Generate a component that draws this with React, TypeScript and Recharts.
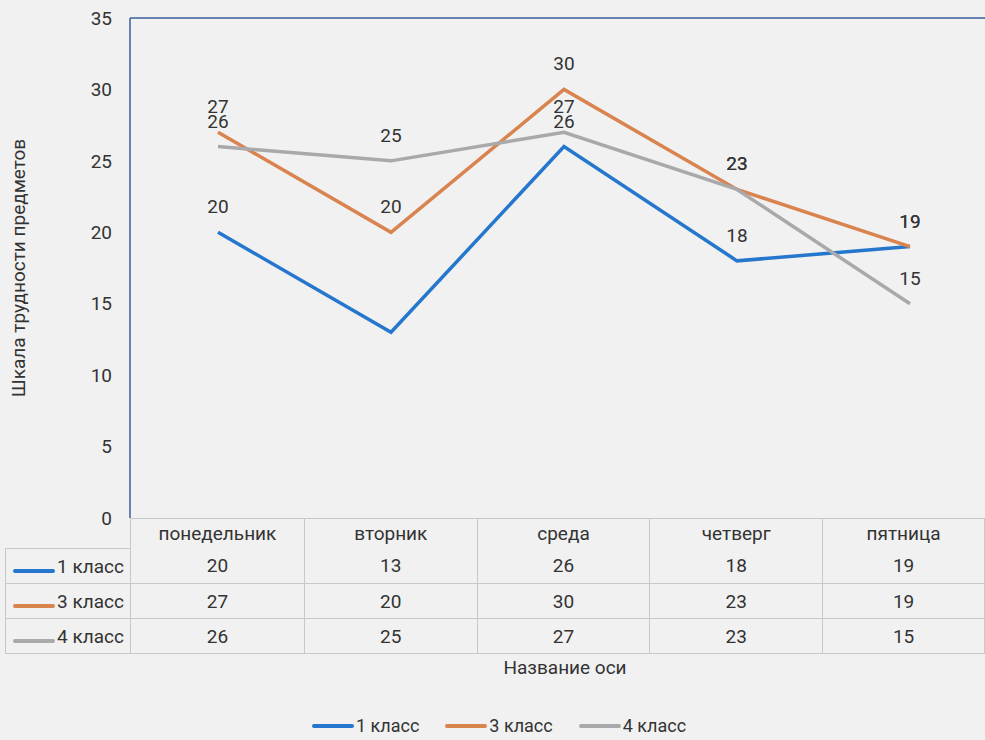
import { LabelList, Line, LineChart, ReferenceLine, XAxis, YAxis } from "recharts";

const DAYS = ["понедельник", "вторник", "среда", "четверг", "пятница"];
const CLASS_1 = [20, 13, 26, 18, 19];
const CLASS_3 = [27, 20, 30, 23, 19];
const CLASS_4 = [26, 25, 27, 23, 15];
const Y_TICKS = [0, 5, 10, 15, 20, 25, 30, 35];
// which data labels are visible in the original (Excel hid the overlapping one)
const SHOW_1 = [true, false, true, true, true];
const SHOW_3 = [true, true, true, true, true];
const SHOW_4 = [true, true, true, true, true];

const SERIES = [
  { key: "c1", name: "1 класс", values: CLASS_1, show: SHOW_1, color: "#2477cc" },
  { key: "c3", name: "3 класс", values: CLASS_3, show: SHOW_3, color: "#d9834e" },
  { key: "c4", name: "4 класс", values: CLASS_4, show: SHOW_4, color: "#a9a9ab" },
];

const DATA = DAYS.map((d, i) => ({
  day: d,
  c1: CLASS_1[i],
  c3: CLASS_3[i],
  c4: CLASS_4[i],
}));

const FONT = "Roboto, 'Noto Sans', sans-serif";
const TEXT = "#333";
const AXIS = "#3d5c9c";
const GRID = "#c8c8c8";
const COLS = [125, 174, 173, 173, 173, 162];

function makeLabel(show: boolean[]) {
  return (p: any) => {
    if (!show[p.index]) return null;
    return (
      <text x={p.x} y={p.y - 19} textAnchor="middle" fill={TEXT} fontSize={19} fontFamily={FONT}>
        {p.value}
      </text>
    );
  };
}

function Key({ color }: { color: string }) {
  return (
    <span
      style={{ display: "inline-block", width: 42, height: 4, background: color, borderRadius: 2, marginRight: 2 }}
    />
  );
}

export default function App() {
  const cell = {
    borderLeft: `1px solid ${GRID}`,
    borderRight: `1px solid ${GRID}`,
    borderBottom: `1px solid ${GRID}`,
    textAlign: "center" as const,
    padding: 0,
  };
  return (
    <div
      style={{
        position: "absolute",
        left: 0,
        top: 0,
        width: 985,
        height: 740,
        overflow: "hidden",
        background: "#f1f1f1",
        fontFamily: FONT,
        color: TEXT,
      }}
    >
      <LineChart width={985} height={540} data={DATA} margin={{ top: 18, right: 0, bottom: 22, left: 90 }}>
        <XAxis dataKey="day" hide padding={{ left: 88, right: 75 }} />
        <YAxis
          domain={[0, 35]}
          ticks={Y_TICKS}
          interval={0}
          width={40}
          tickLine={false}
          tickMargin={12}
          axisLine={{ stroke: AXIS, strokeWidth: 1.5 }}
          tick={{ fill: TEXT, fontSize: 19, fontFamily: FONT }}
        />
        <ReferenceLine y={35} stroke={AXIS} strokeWidth={1.5} />
        {SERIES.map((s) => (
          <Line
            key={s.key}
            dataKey={s.key}
            name={s.name}
            type="linear"
            stroke={s.color}
            strokeWidth={3.5}
            dot={false}
            isAnimationActive={false}
          >
            <LabelList dataKey={s.key} content={makeLabel(s.show)} />
          </Line>
        ))}
      </LineChart>

      <div
        style={{
          position: "absolute",
          left: 18,
          top: 268,
          transform: "translate(-50%, -50%) rotate(-90deg)",
          whiteSpace: "nowrap",
          fontSize: 19,
        }}
      >
        Шкала трудности предметов
      </div>

      <table
        style={{
          position: "absolute",
          left: 5,
          top: 518,
          borderCollapse: "collapse",
          tableLayout: "fixed",
          fontSize: 19,
        }}
      >
        <colgroup>
          {COLS.map((w, i) => (
            <col key={i} style={{ width: w }} />
          ))}
        </colgroup>
        <tbody>
          <tr style={{ height: 30 }}>
            <td style={{ padding: 0, borderBottom: `1px solid ${GRID}` }} />
            {DAYS.map((d) => (
              <td key={d} style={{ ...cell, borderBottom: "none", borderTop: `1px solid ${GRID}` }}>
                {d}
              </td>
            ))}
          </tr>
          {SERIES.map((s) => (
            <tr key={s.key} style={{ height: 35 }}>
              <td style={{ ...cell, textAlign: "left", paddingLeft: 7, whiteSpace: "nowrap" }}>
                <Key color={s.color} />
                {s.name}
              </td>
              {s.values.map((v, i) => (
                <td key={i} style={cell}>
                  {v}
                </td>
              ))}
            </tr>
          ))}
        </tbody>
      </table>

      <div style={{ position: "absolute", left: 0, width: 1130, top: 656, textAlign: "center", fontSize: 19 }}>
        Название оси
      </div>

      <div
        style={{
          position: "absolute",
          left: 312,
          top: 715,
          display: "flex",
          gap: 26,
          fontSize: 18,
          alignItems: "center",
        }}
      >
        {SERIES.map((s) => (
          <span key={s.key} style={{ display: "inline-flex", alignItems: "center" }}>
            <Key color={s.color} />
            {s.name}
          </span>
        ))}
      </div>
    </div>
  );
}
